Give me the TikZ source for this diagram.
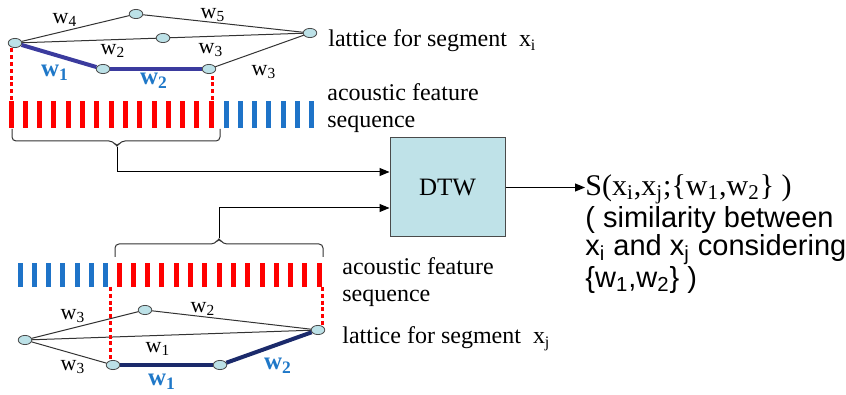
\documentclass[tikz,border=0pt]{standalone}
\usepackage{fontspec}
\setmainfont{Liberation Serif}
\setsansfont{Liberation Sans}
\usetikzlibrary{shapes.geometric,arrows.meta}
\definecolor{barred}{HTML}{FF0000}
\definecolor{barblue}{HTML}{1E73C8}
\definecolor{lblue}{HTML}{1F78C8}
\definecolor{nodefill}{HTML}{BCE1E7}
\definecolor{nodeedge}{HTML}{4A4A4A}
\definecolor{pathtop}{HTML}{3B3B9E}
\definecolor{pathbot}{HTML}{1B2A6B}
\definecolor{dtwfill}{HTML}{BFE2E8}
\begin{document}
\begin{tikzpicture}[x=0.5pt,y=-0.5pt,
  lat/.style={ellipse, draw=nodeedge, fill=nodefill, minimum width=6.8pt, minimum height=4.6pt, inner sep=0pt, line width=0.4pt},
  thin/.style={draw=black!80, line width=0.5pt},
  toppath/.style={draw=pathtop, line width=2pt},
  botpath/.style={draw=pathbot, line width=2pt},
  reddot/.style={draw=barred, line width=1.5pt, dash pattern=on 2pt off 1.4pt},
  wl/.style={font=\fontsize{11}{12}\selectfont, inner sep=0pt},
  bl/.style={font=\bfseries\fontsize{12.5}{13}\selectfont, text=lblue, inner sep=0pt},
  lbl/.style={font=\fontsize{12}{13.5}\selectfont, align=left, anchor=west, inner sep=0pt},
  arr/.style={-{Triangle[length=5pt,width=4pt]}, line width=0.5pt},
  brace/.style={draw=black!80, line width=0.5pt, rounded corners=2pt}]
\useasboundingbox (0,0) rectangle (846,395);

% ---------- top lattice ----------
\node[lat] (A)  at (15,43) {};
\node[lat] (T1) at (136,14) {};
\node[lat] (M1) at (163,38) {};
\node[lat] (R1) at (310,33) {};
\node[lat] (B1) at (103,69) {};
\node[lat] (C1) at (209,69) {};
\draw[thin] (A) -- (T1);
\draw[thin] (T1) -- (R1);
\draw[thin] (A) -- (M1);
\draw[thin] (M1) -- (R1);
\draw[thin] (C1) -- (R1);
\draw[toppath] (A) -- (B1);
\draw[toppath] (B1) -- (C1);
\node[wl] (lw4) at (65,20) {w\textsubscript{4}};
\node[wl] (lw5) at (213,15) {w\textsubscript{5}};
\node[wl] (lw2) at (113,51) {w\textsubscript{2}};
\node[wl] (lw3a) at (211,50) {w\textsubscript{3}};
\node[wl] (lw3b) at (264,72) {w\textsubscript{3}};
\node[bl] (bw1) at (55,73) {w\textsubscript{1}};
\node[bl] (bw2) at (154,81) {w\textsubscript{2}};

% top bars
\foreach \i in {0,...,14} \fill[barred] ({11+\i*14.3-2.5},101) rectangle +(5,27);
\foreach \i in {0,...,6} \fill[barblue] ({226+\i*14.3-2.5},101) rectangle +(5,27);
\coordinate (dA) at (11,100);
\coordinate (dC) at (212,100);
\draw[reddot] (dA) -- (dA |- A.south);
\draw[reddot] (dC) -- (dC |- C1.south);

\node[lbl] (latI) at (328,41) {lattice for segment\enspace x\textsubscript{i}};
\node[lbl] (acI) at (327,108) {acoustic feature\\sequence};

% top brace and arrow
\coordinate (tipA) at (117,147);
\draw[brace] (12,129) |- (113,141) -- (tipA) -- (121,141) -| (220,129);

% ---------- DTW ----------
\node[draw=nodeedge, fill=dtwfill, minimum width=57.5pt, minimum height=49.5pt, inner sep=0pt, line width=0.5pt,
      font=\fontsize{12.5}{14}\selectfont] (dtw) at (447.5,187.5) {DTW};
\coordinate (ya) at (0,172);
\coordinate (yb) at (0,208);
\draw[arr] (tipA) |- (dtw.west |- ya);

% lower brace and arrow
\coordinate (tipB) at (219,238);
\draw[brace] (115,257) |- (215,244) -- (tipB) -- (223,244) -| (323,257);
\draw[arr] (tipB) |- (dtw.west |- yb);

% ---------- output ----------
\node[anchor=north west, inner sep=0pt, align=left, font=\sffamily\fontsize{14.5}{14.25}\selectfont] (sim) at (585,174)
  {{\rmfamily\fontsize{15}{14.25}\selectfont S(x\textsubscript{i},x\textsubscript{j};\{w\textsubscript{1},w\textsubscript{2}\} )}\\
   ( similarity between\\
   x\textsubscript{i} and x\textsubscript{j} considering\\
   \{w\textsubscript{1},w\textsubscript{2}\} )};
\draw[arr] (dtw.east) -- (dtw.east -| sim.west);

% ---------- lower bars ----------
\foreach \i in {0,...,6} \fill[barblue] ({20+\i*14.3-2.5},263) rectangle +(5,24);
\foreach \i in {0,...,14} \fill[barred] ({119+\i*14.3-2.5},263) rectangle +(5,24);

% ---------- lower lattice ----------
\node[lat] (L2) at (25,340) {};
\node[lat] (T2) at (145,310) {};
\node[lat] (R2) at (318,330) {};
\node[lat] (B2) at (113,365) {};
\node[lat] (C2) at (220,365) {};
\draw[thin] (L2) -- (T2);
\draw[thin] (T2) -- (R2);
\draw[thin] (L2) -- (R2);
\draw[thin] (L2) -- (B2);
\draw[botpath] (B2) -- (C2);
\draw[botpath] (C2) -- (R2);
\coordinate (dB2) at (110,287);
\coordinate (dR2) at (322,287);
\draw[reddot] (dB2) -- (dB2 |- B2.north);
\draw[reddot] (dR2) -- (dR2 |- R2.north);
\node[wl] (mw3a) at (73,316) {w\textsubscript{3}};
\node[wl] (mw2) at (203,309) {w\textsubscript{2}};
\node[wl] (mw1) at (158,349) {w\textsubscript{1}};
\node[wl] (mw3b) at (73,367) {w\textsubscript{3}};
\node[bl] (cw1) at (162,382) {w\textsubscript{1}};
\node[bl] (cw2) at (278,366) {w\textsubscript{2}};

\node[lbl] (acJ) at (342,282) {acoustic feature\\sequence};
\node[lbl] (latJ) at (342,339) {lattice for segment\enspace x\textsubscript{j}};
\end{tikzpicture}
\end{document}
